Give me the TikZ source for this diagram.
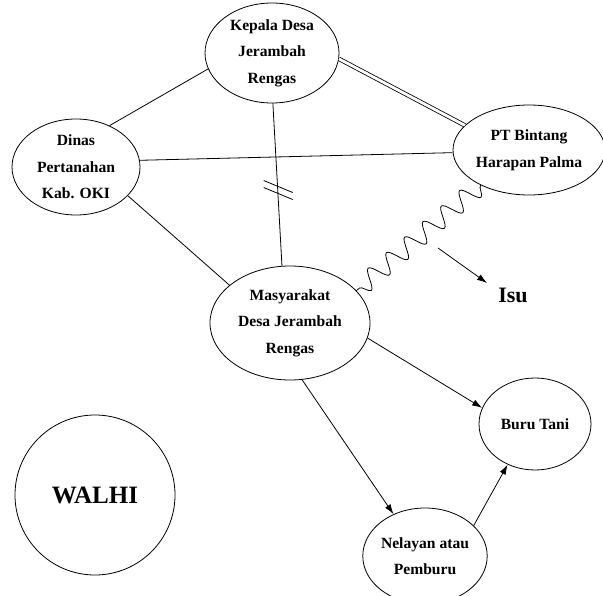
\documentclass[tikz,border=0pt]{standalone}
\usepackage{fontspec}
\setmainfont{Liberation Serif}
\usetikzlibrary{shapes.geometric,arrows.meta,decorations.pathmorphing,calc}
\begin{document}
\begin{tikzpicture}[x=1pt,y=-1pt,
  actor/.style={draw, ellipse, line width=0.8pt, inner sep=0pt, align=center,
    font=\fontsize{15.6}{26.5}\selectfont\bfseries},
  link/.style={line width=0.8pt},
  flow/.style={line width=0.8pt, -{Latex[length=10pt,width=6.5pt]}},
  conflict/.style={line width=0.8pt, decorate,
    decoration={snake, segment length=24pt, amplitude=9.5pt}},
  tight/.style={line width=0.8pt, double, double distance=2.8pt}
]
\useasboundingbox (0,0) rectangle (603,596);
\fill[white] (0,0) rectangle (603,596);

\node[actor, minimum width=134pt, minimum height=100pt] (kepala) at (272,53)
  {Kepala Desa\\Jerambah\\Rengas};
\node[actor, minimum width=128pt, minimum height=96pt] (dinas) at (76,167)
  {Dinas\\Pertanahan\\Kab. OKI};
\node[actor, minimum width=152pt, minimum height=90pt] (pt) at (529,150)
  {PT Bintang\\Harapan Palma};
\node[actor, minimum width=160pt, minimum height=114pt] (masy) at (290,323)
  {Masyarakat\\Desa Jerambah\\Rengas};
\node[actor, minimum width=112pt, minimum height=92pt] (buru) at (535,424)
  {Buru Tani};
\node[actor, minimum width=110pt, minimum height=96pt] (nelayan) at (425,556)
  {Nelayan atau\\Pemburu};
\node[actor, minimum width=160pt, minimum height=160pt,
  font=\fontsize{25}{28}\selectfont\bfseries] (walhi) at (95,495) {WALHI};
\node[font=\fontsize{22}{24}\selectfont\bfseries, inner sep=0pt] (isu) at (513,295) {Isu};

% relations
\draw[link] (dinas.51) -- (kepala.194);
\draw[tight] (kepala.-5) -- (pt.159);
\draw[link] (dinas.6) -- (pt.182);
\draw[link] (dinas.-29) -- (masy.148);
\draw[link] (kepala.-89) -- coordinate[pos=0.53] (brk) (masy.98);
\draw[link] ($(brk)+(-14,-9)$) -- ($(brk)+(15,3)$);
\draw[link] ($(brk)+(-14,-2)$) -- ($(brk)+(15,10)$);
\draw[conflict] (pt.216) -- (masy.26);

\coordinate (isustart) at (438,248);
\coordinate (isuend) at (487,283);
\draw[flow] (isustart) -- (isuend);

\draw[flow] (masy.-11) -- (buru.163);
\draw[flow] (masy.-78) -- (nelayan.127);
\draw[flow] (nelayan.32) -- (buru.236);
\end{tikzpicture}
\end{document}
